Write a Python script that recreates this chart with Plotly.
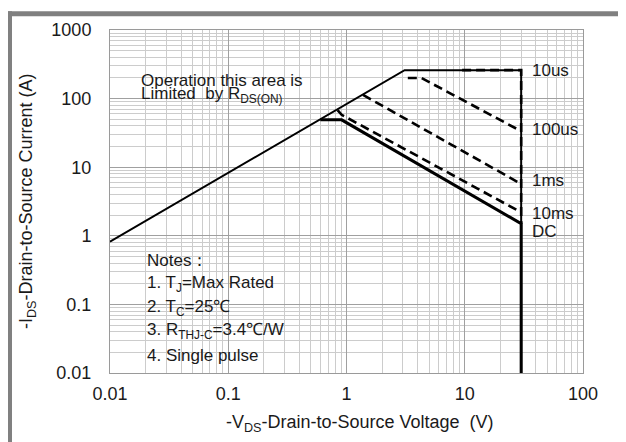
import plotly.graph_objects as go

# ---------------- data ----------------
limit_v = [0.01, 3.1, 30, 30]          # R_DS(on) limit + current limit + voltage limit
limit_i = [0.82, 260, 260, 0.01]

us10_v = [9.5, 30, 30]
us10_i = [260, 260, 1.5]

us100_v = [3.3, 4.3, 30]
us100_i = [200, 200, 33.5]

ms1_v = [1.38, 30]
ms1_i = [113, 5.7]

ms10_v = [0.84, 0.91, 30]
ms10_i = [68, 58, 2.2]

dc_v = [0.6, 0.91, 30, 30]
dc_i = [49, 49, 1.5, 0.01]

curve_labels = ["10us", "100us", "1ms", "10ms", "DC"]

x_tickvals = [0.01, 0.1, 1, 10, 100]
x_ticktext = ["0.01", "0.1", "1", "10", "100"]
y_tickvals = [0.01, 0.1, 1, 10, 100, 1000]
y_ticktext = ["0.01", "0.1", "1", "10", "100", "1000"]

notes = ["Notes：", "1. T<sub>J</sub>=Max Rated", "2. T<sub>C</sub>=25℃",
         "3. R<sub>THJ-C</sub>=3.4℃/W", "4. Single pulse"]

# ---------------- geometry helpers (screen pixels) ----------------
SCREEN_W, SCREEN_H = 626, 442
OFF = 8                      # page body margin
W, H = SCREEN_W - OFF, SCREEN_H - OFF
L, R, T, B = 110, 583, 26, 373   # plot area in screen pixels


def fx(px):
    return (px - L) / (R - L)


def fy(py):
    return (B - py) / (B - T)


FONT = "Liberation Sans, Arial, sans-serif"
TXT = "#1a1a1a"

fig = go.Figure()
fig.add_trace(go.Scatter(x=limit_v, y=limit_i, mode="lines",
                         line=dict(color="black", width=2), showlegend=False))
for v, i in [(us10_v, us10_i), (us100_v, us100_i), (ms1_v, ms1_i), (ms10_v, ms10_i)]:
    fig.add_trace(go.Scatter(x=v, y=i, mode="lines",
                             line=dict(color="black", width=2.6, dash="9px,5px"),
                             showlegend=False))
fig.add_trace(go.Scatter(x=dc_v, y=dc_i, mode="lines",
                         line=dict(color="black", width=3), showlegend=False))

axis_common = dict(
    type="log", showline=True, mirror=True, linecolor="#9a9a9a", linewidth=1,
    showgrid=True, gridcolor="#a0a0a0", gridwidth=1, zeroline=False, ticks="",
    tickfont=dict(family=FONT, size=18, color=TXT),
    minor=dict(dtick="D1", showgrid=True, gridcolor="#cccccc", gridwidth=1, ticks=""),
)

fig.update_xaxes(range=[-2, 2], tickvals=x_tickvals, ticktext=x_ticktext,
                 ticklabelstandoff=4, **axis_common)
fig.update_yaxes(range=[-2, 3], tickvals=y_tickvals, ticktext=y_ticktext,
                 ticklabelstandoff=14, **axis_common)

shapes = [
    # notes box
    dict(type="rect", xref="paper", yref="paper", x0=fx(122), x1=fx(309),
         y0=fy(367), y1=fy(242), fillcolor="white", line=dict(width=0), layer="between"),
    # outer frame bars (top and left)
    dict(type="rect", xref="paper", yref="paper", x0=fx(OFF), x1=fx(SCREEN_W + 2),
         y0=fy(OFF + 4), y1=fy(OFF - 1), fillcolor="#808080", line=dict(width=0)),
    dict(type="rect", xref="paper", yref="paper", x0=fx(OFF - 1), x1=fx(OFF + 4),
         y0=fy(SCREEN_H + 2), y1=fy(OFF - 1), fillcolor="#808080", line=dict(width=0)),
]

annotations = []
label_y = [66.7, 126.7, 178, 212, 230]
for txt, py in zip(curve_labels, label_y):
    annotations.append(dict(text=txt, xref="paper", yref="paper", x=fx(530), y=fy(py),
                            xanchor="left", yanchor="middle", showarrow=False,
                            font=dict(family=FONT, size=17, color=TXT)))

annotations.append(dict(text="Operation this area is", xref="paper", yref="paper",
                        x=fx(139), y=fy(76.7), xanchor="left", yanchor="middle",
                        showarrow=False, font=dict(family=FONT, size=17, color=TXT)))
annotations.append(dict(text="Limited  by R<sub>DS(ON)</sub>", xref="paper", yref="paper",
                        x=fx(139), y=fy(92), xanchor="left", yanchor="middle",
                        showarrow=False, font=dict(family=FONT, size=17, color=TXT)))

note_y = [259.3, 283.3, 307.3, 330.7, 355]
for txt, py in zip(notes, note_y):
    annotations.append(dict(text=txt, xref="paper", yref="paper", x=fx(145), y=fy(py),
                            xanchor="left", yanchor="middle", showarrow=False,
                            font=dict(family=FONT, size=17, color=TXT)))

annotations.append(dict(text="-V<sub>DS</sub>-Drain-to-Source Voltage  (V)",
                        xref="paper", yref="paper", x=fx(360), y=fy(424),
                        xanchor="center", yanchor="middle", showarrow=False,
                        font=dict(family=FONT, size=18, color=TXT)))
annotations.append(dict(text="-I<sub>DS</sub>-Drain-to-Source Current (A)",
                        xref="paper", yref="paper", x=fx(27), y=fy(199),
                        xanchor="center", yanchor="middle", showarrow=False, textangle=-90,
                        font=dict(family=FONT, size=18, color=TXT)))

fig.update_layout(
    width=W, height=H,
    margin=dict(l=L - OFF, r=SCREEN_W - R, t=T - OFF, b=SCREEN_H - B, pad=0),
    paper_bgcolor="white", plot_bgcolor="white",
    shapes=shapes, annotations=annotations,
    font=dict(family=FONT, color=TXT),
)

fig.write_html("out.html")
